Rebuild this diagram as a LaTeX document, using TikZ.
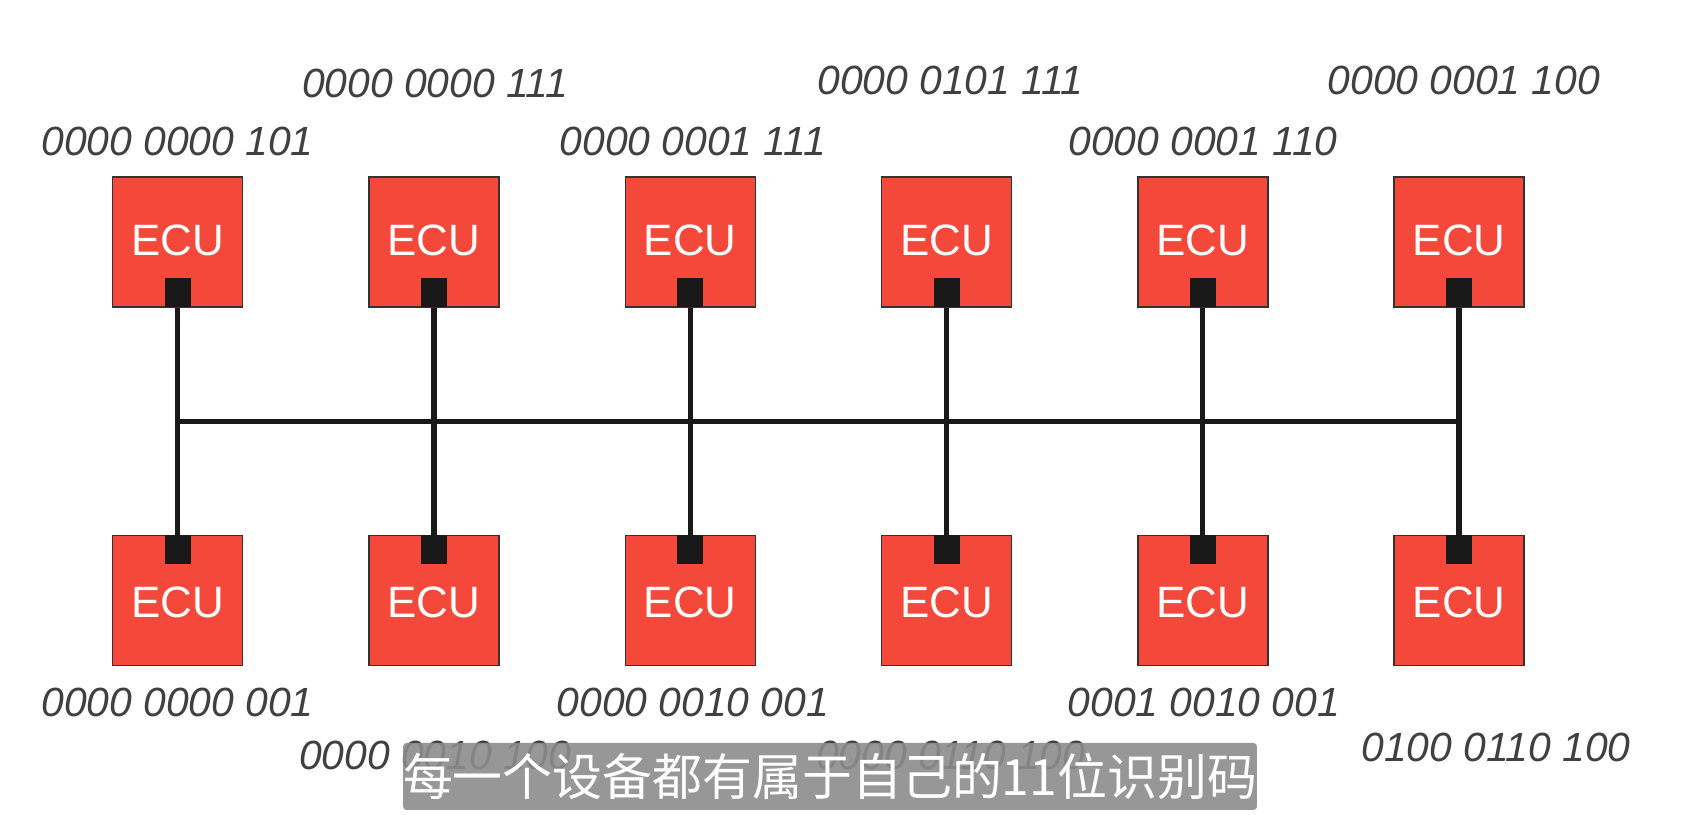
\documentclass[tikz,border=0pt]{standalone}
\usepackage{fontspec}
\setsansfont{Liberation Sans}
\newfontfamily\cjk{Noto Sans CJK SC}
\usetikzlibrary{calc}
\definecolor{ecured}{HTML}{F4483A}
\tikzset{ecu/.style = {draw=black!80, fill=ecured, minimum size=1.3cm, inner sep=0,
                        text=white, font=\sffamily\fontsize{12.5}{14}\selectfont}}
\tikzset{port/.style = {fill=black!90, minimum width=0.26cm, minimum height=0.29cm, inner sep=0}}
\tikzset{ident/.style = {text=black!75, font=\sffamily\itshape\fontsize{11.6}{14}\selectfont}}
\tikzset{bus/.style = {line width=1.5pt, black!90}}

\begin{document}
\begin{tikzpicture}
\useasboundingbox (0,0) rectangle (16.89,8.15);
\foreach \i in {1,...,6} {
  \node[ecu] (t\i) at ({1.776+(\i-1)*2.563},5.73) {};
  \node at ($(t\i)+(0,0.02)$) [text=white, font=\sffamily\fontsize{12.5}{14}\selectfont] {ECU};
  \node[port, anchor=south] (tp\i) at (t\i.south) {};
  \node[ecu] (b\i) at ({1.776+(\i-1)*2.563},2.146) {};
  \node at ($(b\i)+(0,-0.02)$) [text=white, font=\sffamily\fontsize{12.5}{14}\selectfont] {ECU};
  \node[port, anchor=north] (bp\i) at (b\i.north) {};
  \draw[bus] (tp\i.south) -- (bp\i.north);
}
\coordinate (busL) at (tp1 |- 0,3.938);
\coordinate (busR) at (tp6 |- 0,3.938);
\draw[bus] (busL) -- (busR);
% identifiers
\node[ident] (it1) at (1.776,6.74) {0000 0000 101};
\node[ident] (it2) at (4.352,7.32) {0000 0000 111};
\node[ident] (it3) at (6.929,6.74) {0000 0001 111};
\node[ident] (it4) at (9.506,7.35) {0000 0101 111};
\node[ident] (it5) at (12.03,6.74) {0000 0001 110};
\node[ident] (it6) at (14.64,7.35) {0000 0001 100};
\node[ident] (ib1) at (1.776,1.13) {0000 0000 001};
\node[ident] (ib2) at (4.352,0.60) {0000 0010 100};
\node[ident] (ib3) at (6.929,1.13) {0000 0010 001};
\node[ident] (ib4) at (9.506,0.60) {0000 0110 100};
\node[ident] (ib5) at (12.04,1.13) {0001 0010 001};
\node[ident] (ib6) at (14.96,0.68) {0100 0110 100};
% caption
\node[fill=black!45, fill opacity=0.9, text opacity=1, text=white, rounded corners=1pt,
      minimum width=8.46cm, minimum height=0.67cm, inner sep=0,
      font=\cjk\fontsize{14.2}{16}\selectfont] (cap) at (8.30,0.385) {每一个设备都有属于自己的11位识别码};
\end{tikzpicture}
\end{document}
